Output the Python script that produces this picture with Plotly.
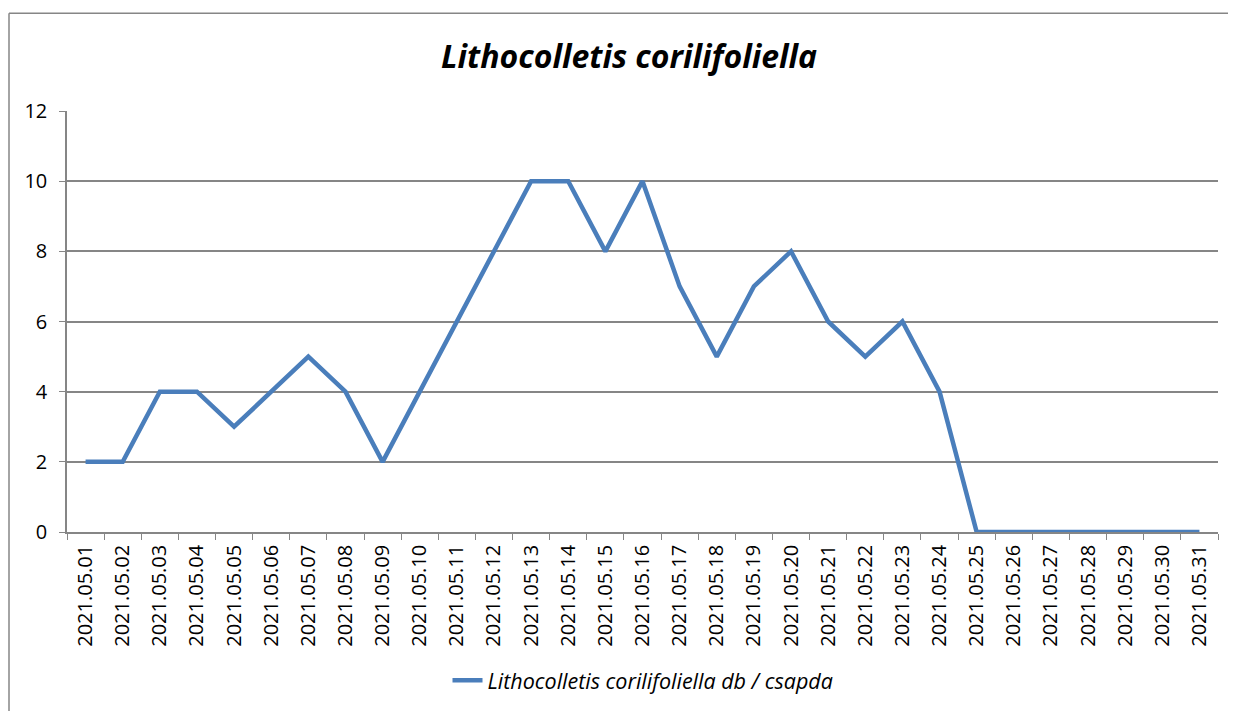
import plotly.graph_objects as go

dates = [f"2021.05.{d:02d}" for d in range(1, 32)]
counts = [2, 2, 4, 4, 3, 4, 5, 4, 2, 4, 6, 8, 10, 10, 8, 10, 7, 5, 7, 8, 6, 5, 6, 4,
          0, 0, 0, 0, 0, 0, 0]
series_name = "Lithocolletis corilifoliella db / csapda"
title_text = "Lithocolletis corilifoliella"

# page body has an 8px margin; figure sized so the page fills the window
OFF = 8
W, H = 1236 - 2 * OFF, 719 - 2 * OFF
# plot area in screen pixels: x 67..1218, y 111..537
SX0, SX1, SY0, SY1 = 67, 1218, 111, 537
L, R, T, B = SX0 - OFF, W - (SX1 - OFF), SY0 - OFF, H - (SY1 - OFF)
pw, ph = SX1 - SX0, SY1 - SY0

def px2x(px):
    return (px - SX0) / pw

def px2y(py):
    return (SY1 - py) / ph

FONT = "Open Sans"
GRAY = "#868686"

fig = go.Figure()
fig.add_trace(go.Scatter(
    x=dates, y=counts, mode="lines", name=series_name,
    line=dict(color="#4A7EBB", width=4.5),
))

border = dict(type="line", xref="paper", yref="paper",
              line=dict(color=GRAY, width=1.5), layer="below")

fig.update_layout(
    width=W, height=H,
    margin=dict(l=L, r=R, t=T, b=B),
    paper_bgcolor="white", plot_bgcolor="white",
    font=dict(family=FONT, size=20, color="black"),
    title=dict(text=title_text, x=px2x(629), xref="paper", xanchor="center",
               y=1 - (57 - OFF) / H, yanchor="middle",
               font=dict(family=FONT, size=32, weight="bold", style="italic")),
    showlegend=True,
    legend=dict(orientation="h", x=px2x(643), xanchor="center", y=px2y(687),
                yanchor="middle",
                font=dict(family=FONT, size=21.5, style="italic"),
                bgcolor="rgba(0,0,0,0)"),
    xaxis=dict(type="category", range=[-0.5, 30.5], tickangle=-90,
               tickson="boundaries", ticks="outside", ticklen=6, tickcolor=GRAY,
               showline=True, linecolor=GRAY, linewidth=1.5, showgrid=False,
               tickfont=dict(size=20), zeroline=False, ticklabelstandoff=3),
    yaxis=dict(range=[0, 12], dtick=2, ticks="outside", ticklen=6, tickcolor=GRAY,
               showline=True, linecolor=GRAY, linewidth=1.5,
               showgrid=True, gridcolor=GRAY, gridwidth=1.5, zeroline=False,
               tickfont=dict(size=20), ticklabelstandoff=8),
    shapes=[
        dict(border, x0=px2x(9), x1=px2x(9), y0=px2y(760), y1=px2y(12)),
        dict(border, x0=px2x(9), x1=px2x(1260), y0=px2y(12), y1=px2y(12)),
    ],
)

fig.write_html("out.html")
